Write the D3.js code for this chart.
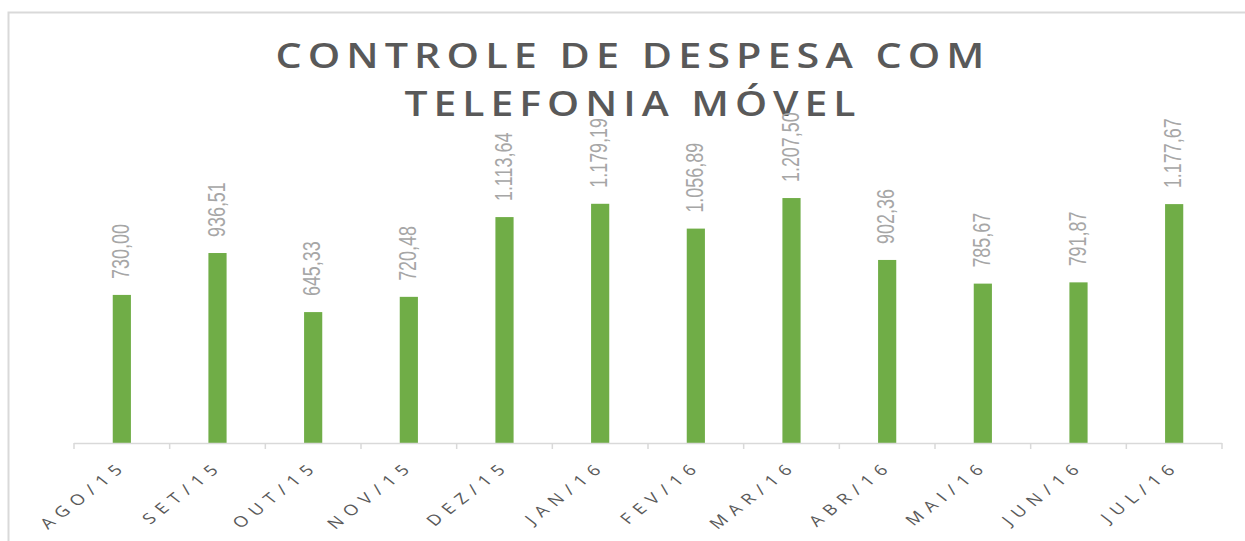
<!DOCTYPE html>
<html><head><meta charset="utf-8">
<script src="https://cdn.jsdelivr.net/npm/d3@7"></script>
<style>html,body{margin:0;padding:0;background:#fff;overflow:hidden}</style>
</head><body>
<svg id="chart" width="1245" height="541"></svg>
<script>
const categories = ["AGO/15","SET/15","OUT/15","NOV/15","DEZ/15","JAN/16","FEV/16","MAR/16","ABR/16","MAI/16","JUN/16","JUL/16"];
const values = [730.00, 936.51, 645.33, 720.48, 1113.64, 1179.19, 1056.89, 1207.50, 902.36, 785.67, 791.87, 1177.67];
const titleLines = ["CONTROLE  DE DESPESA COM", "TELEFONIA  MÓVEL"];
const yDomain = [0, 1400];

const svg = d3.select("#chart");
const W = 1245, H = 541;
const plot = {left: 74, right: 1222, top: 159, bottom: 443};

svg.append("rect").attr("width", W).attr("height", H).attr("fill", "#fff");
svg.append("rect").attr("x", 8.5).attr("y", 12.5).attr("width", W).attr("height", H)
  .attr("fill", "none").attr("stroke", "#d9d9d9").attr("stroke-width", 2);

const locale = d3.formatLocale({decimal: ",", thousands: ".", grouping: [3], currency: ["", ""]});
const fmt = locale.format(",.2f");

const x = d3.scaleBand().domain(categories).range([plot.left, plot.right]).paddingInner(0.81).paddingOuter(0.405);
const xb = d3.scaleBand().domain(categories).range([plot.left, plot.right]);
const y = d3.scaleLinear().domain(yDomain).range([plot.bottom, plot.top]);

// title
svg.append("g").selectAll("text").data(titleLines).join("text")
  .attr("x", 633).attr("y", (d, i) => 68 + i * 48)
  .attr("text-anchor", "middle")
  .attr("font-family", "'Open Sans', sans-serif").attr("font-weight", 600)
  .attr("font-size", 34).attr("fill", "#595959")
  .attr("letter-spacing", 5)
  .attr("textLength", (d, i) => i === 0 ? 715 : 457).attr("lengthAdjust", "spacingAndGlyphs")
  .text(d => d);

// bars
svg.append("g").selectAll("rect").data(values).join("rect")
  .attr("x", (d, i) => x(categories[i])).attr("width", x.bandwidth())
  .attr("y", d => y(d)).attr("height", d => y(0) - y(d))
  .attr("fill", "#70ad47");

// value labels
svg.append("g").selectAll("text").data(values).join("text")
  .attr("transform", (d, i) => `translate(${x(categories[i]) + x.bandwidth() / 2 + 7},${y(d) - 16}) scale(1,0.78) rotate(-90)`)
  .attr("font-family", "'Liberation Sans', Arial, sans-serif").attr("font-size", 23)
  .attr("fill", "#a6a6a6")
  .text(d => fmt(d));

// x axis
const axis = svg.append("g").attr("transform", `translate(0,${plot.bottom})`);
axis.append("line").attr("x1", plot.left).attr("x2", plot.right).attr("y1", 0.5).attr("y2", 0.5)
  .attr("stroke", "#d9d9d9").attr("stroke-width", 1.5);
const tickPos = categories.map(c => xb(c)).concat([plot.right]);
axis.selectAll("line.tick").data(tickPos).join("line").attr("class", "tick")
  .attr("x1", d => d).attr("x2", d => d).attr("y1", 0).attr("y2", 6)
  .attr("stroke", "#d9d9d9").attr("stroke-width", 1.5);

svg.append("g").selectAll("text").data(categories).join("text")
  .attr("transform", c => `translate(${xb(c) + xb.bandwidth() / 2 + 7},${plot.bottom + 24}) scale(1,0.78) rotate(-45)`)
  .attr("text-anchor", "end")
  .attr("font-family", "'Open Sans', sans-serif").attr("font-size", 19)
  .attr("letter-spacing", 7.5)
  .attr("fill", "#595959")
  .text(c => c);
</script>
</body></html>
